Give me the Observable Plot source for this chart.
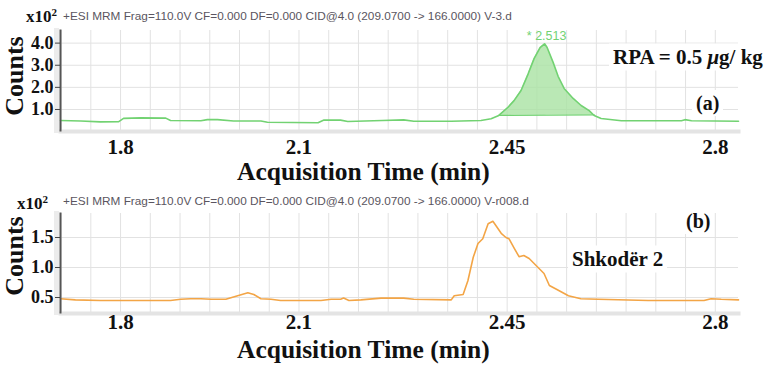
<!DOCTYPE html>
<html>
<head>
<meta charset="utf-8">
<script src="https://cdn.jsdelivr.net/npm/d3@7"></script>
<script src="https://cdn.jsdelivr.net/npm/@observablehq/plot@0.6"></script>
<style>
  html, body { margin: 0; padding: 0; background: #fff; }
  #wrap { position: relative; width: 774px; height: 371px; overflow: hidden; background: #fff; }
  #wrap svg { position: absolute; left: 0; }
  .t { position: absolute; line-height: 1; transform: translateY(-50%); white-space: nowrap; }
  .serif { font-family: "Liberation Serif", "Times New Roman", serif; font-weight: bold; color: #111; }
  .hdr { font-family: "Liberation Sans", Arial, sans-serif; font-size: 11.8px; color: #5a5560; }
  .rot { position: absolute; transform: translate(-50%, -50%) rotate(-90deg); line-height: 1; white-space: nowrap; }
  .box { background: #fff; padding: 3px 4px; }
</style>
</head>
<body>
<div id="wrap"></div>
<script>
// ---------- data ----------
// Panel (a): RPA = 0.5 µg/kg  — time (min), counts (x10^2)
const timeA = [1.699, 1.733, 1.766, 1.797, 1.805, 1.834, 1.876, 1.884, 1.935, 1.946, 1.963, 1.990,
  2.036, 2.047, 2.132, 2.142, 2.170, 2.182, 2.240, 2.276, 2.293, 2.356, 2.406, 2.423,
  2.436, 2.4515, 2.4616, 2.4734, 2.4852, 2.4953, 2.5054, 2.513, 2.5172, 2.5273, 2.5357, 2.5458,
  2.561, 2.5744, 2.5879, 2.5963, 2.608, 2.642, 2.743, 2.749, 2.760, 2.839];
const countsA = [0.50, 0.48, 0.44, 0.45, 0.60, 0.62, 0.61, 0.50, 0.49, 0.54, 0.54, 0.48,
  0.48, 0.42, 0.40, 0.52, 0.52, 0.46, 0.50, 0.53, 0.47, 0.47, 0.50, 0.58,
  0.73, 1.10, 1.40, 1.86, 2.60, 3.30, 3.80, 3.97, 3.80, 3.13, 2.50, 1.95,
  1.50, 1.18, 0.95, 0.73, 0.59, 0.49, 0.49, 0.54, 0.49, 0.47];
// integration baseline of the peak (start, end)
const peakStart = {t: 2.436, c: 0.73};
const peakEnd = {t: 2.5963, c: 0.76};
const peakLabel = "* 2.513";
const peakTime = 2.513;

// Panel (b): Shkodër 2
const timeB = [1.699, 1.724, 1.766, 1.884, 1.901, 1.918, 1.935, 1.952, 1.977, 1.994, 2.014, 2.024,
  2.036, 2.053, 2.069, 2.137, 2.154, 2.170, 2.175, 2.184, 2.204, 2.238, 2.276, 2.293,
  2.356, 2.361, 2.376, 2.384, 2.393, 2.401, 2.409, 2.418, 2.426, 2.431, 2.440, 2.448,
  2.453, 2.462, 2.470, 2.478, 2.487, 2.502, 2.512, 2.521, 2.536, 2.553, 2.574, 2.603,
  2.687, 2.781, 2.793, 2.810, 2.839];
const countsB = [0.48, 0.46, 0.45, 0.45, 0.47, 0.48, 0.48, 0.47, 0.47, 0.52, 0.58, 0.55,
  0.48, 0.47, 0.45, 0.45, 0.47, 0.47, 0.49, 0.45, 0.46, 0.49, 0.49, 0.47,
  0.46, 0.53, 0.55, 0.78, 1.17, 1.40, 1.48, 1.73, 1.77, 1.70, 1.57, 1.50,
  1.48, 1.32, 1.18, 1.20, 1.15, 1.00, 0.90, 0.70, 0.62, 0.53, 0.48, 0.47,
  0.45, 0.45, 0.48, 0.47, 0.46];

// axes
const xTickValues = [1.8, 2.1, 2.45, 2.8];
const xTickLabels = ["1.8", "2.1", "2.45", "2.8"];
const gridTimes = [1.70, 1.75, 1.80, 1.85, 1.90, 1.95, 2.00, 2.05, 2.10, 2.15, 2.20, 2.25, 2.30,
  2.35, 2.40, 2.45, 2.50, 2.55, 2.60, 2.65, 2.70, 2.75, 2.80];
const yTicksA = [1.0, 2.0, 3.0, 4.0];
const yTicksB = [0.5, 1.0, 1.5];
const headerA = "+ESI MRM Frag=110.0V CF=0.000 DF=0.000 CID@4.0 (209.0700 -> 166.0000) V-3.d";
const headerB = "+ESI MRM Frag=110.0V CF=0.000 DF=0.000 CID@4.0 (209.0700 -> 166.0000) V-r008.d";
const xTitle = "Acquisition Time (min)";
const yTitle = "Counts";

// ---------- build ----------
const serif = "'Liberation Serif', 'Times New Roman', serif";
const xDomain = [1.699, 2.839];
const green = "#72d272", greenFill = "#a9e2a2", orange = "#f3a546", grid = "#e2e2e2";

const dataA = timeA.map((t, i) => ({t, c: countsA[i]}));
const dataB = timeB.map((t, i) => ({t, c: countsB[i]}));
const slope = (peakEnd.c - peakStart.c) / (peakEnd.t - peakStart.t);
const peakArea = dataA.filter(d => d.t >= peakStart.t && d.t <= peakEnd.t)
  .map(d => ({t: d.t, c: d.c, b: peakStart.c + slope * (d.t - peakStart.t)}));
const apex = dataA.find(d => d.t === peakTime);

function panel({data, yDomain, yTicks, height, marginTop, marginBottom, xPad, extra}) {
  return Plot.plot({
    width: 774, height, marginLeft: 60, marginRight: 36, marginTop, marginBottom,
    style: {background: "transparent", overflow: "visible"},
    x: {domain: xDomain},
    y: {domain: yDomain},
    marks: [
      Plot.frame({anchor: "bottom", stroke: "#e4e4e4", strokeWidth: 4, dy: 1}),
      Plot.frame({anchor: "left", stroke: "#ececec", strokeWidth: 5, dx: -4}),
      Plot.gridX(gridTimes, {stroke: grid, strokeOpacity: 1}),
      Plot.gridY(yTicks, {stroke: grid, strokeOpacity: 1}),
      ...(extra || []),
      Plot.line(data, {x: "t", y: "c", stroke: data === dataA ? green : orange, strokeWidth: 1.6}),
      Plot.frame({anchor: "left", stroke: "#555", strokeWidth: 2}),
      Plot.axisY(yTicks, {tickSize: 5, tickPadding: 2, tickFormat: d3.format(".1f"), stroke: "#444",
        fontSize: 18, fontWeight: "bold", fontFamily: serif, fill: "#111", label: null}),
      Plot.axisX(xTickValues, {tickSize: 0, tickPadding: xPad, tickFormat: (d, i) => xTickLabels[i],
        fontSize: 21, fontWeight: "bold", fontFamily: serif, fill: "#111", label: null})
    ]
  });
}

const plotA = panel({
  data: dataA, yDomain: [0.05, 4.57], yTicks: yTicksA, height: 185, marginTop: 30, marginBottom: 55, xPad: 9,
  extra: [
    Plot.areaY(peakArea, {x: "t", y1: "b", y2: "c", fill: greenFill, fillOpacity: 0.8}),
    Plot.line([peakStart, peakEnd], {x: "t", y: "c", stroke: green, strokeWidth: 1.3}),
    Plot.text([apex], {x: "t", y: "c", text: () => peakLabel, dy: -8, dx: 2, fill: green,
      fontSize: 12.5, fontFamily: "'Liberation Sans', Arial, sans-serif"})
  ]
});
plotA.style.top = "0px";

const plotB = panel({
  data: dataB, yDomain: [0.25, 1.9], yTicks: yTicksB, height: 186, marginTop: 28, marginBottom: 59, xPad: 2
});
plotB.style.top = "185px";

const wrap = document.getElementById("wrap");
wrap.append(plotA, plotB);

function addText(html, cls, left, top, size, extraStyle) {
  const d = document.createElement("div");
  d.className = cls;
  d.innerHTML = html;
  d.style.left = left + "px";
  d.style.top = top + "px";
  if (size) d.style.fontSize = size + "px";
  if (extraStyle) Object.assign(d.style, extraStyle);
  wrap.append(d);
  return d;
}
// headers
addText("x10<sup style='font-size:11px;vertical-align:6px'>2</sup>", "t serif", 26, 16, 17);
addText(headerA, "t hdr", 63, 17);
addText("x10<sup style='font-size:11px;vertical-align:6px'>2</sup>", "t serif", 17, 203, 17);
addText(headerB, "t hdr", 63, 202);
// y titles
addText(yTitle, "rot serif", 15, 76, 26);
addText(yTitle, "rot serif", 15, 256, 26);
// x titles
addText(xTitle, "t serif", 237, 172, 25.5);
addText(xTitle, "t serif", 237, 350, 25.5);
// annotations
addText("RPA = 0.5 <i>μ</i>g/ kg", "t serif box", 609, 57, 21);
addText("(a)", "t serif box", 692, 103, 20);
addText("(b)", "t serif box", 682, 221, 20);
addText("Shkodër 2", "t serif box", 568, 259, 21);
</script>
</body>
</html>
